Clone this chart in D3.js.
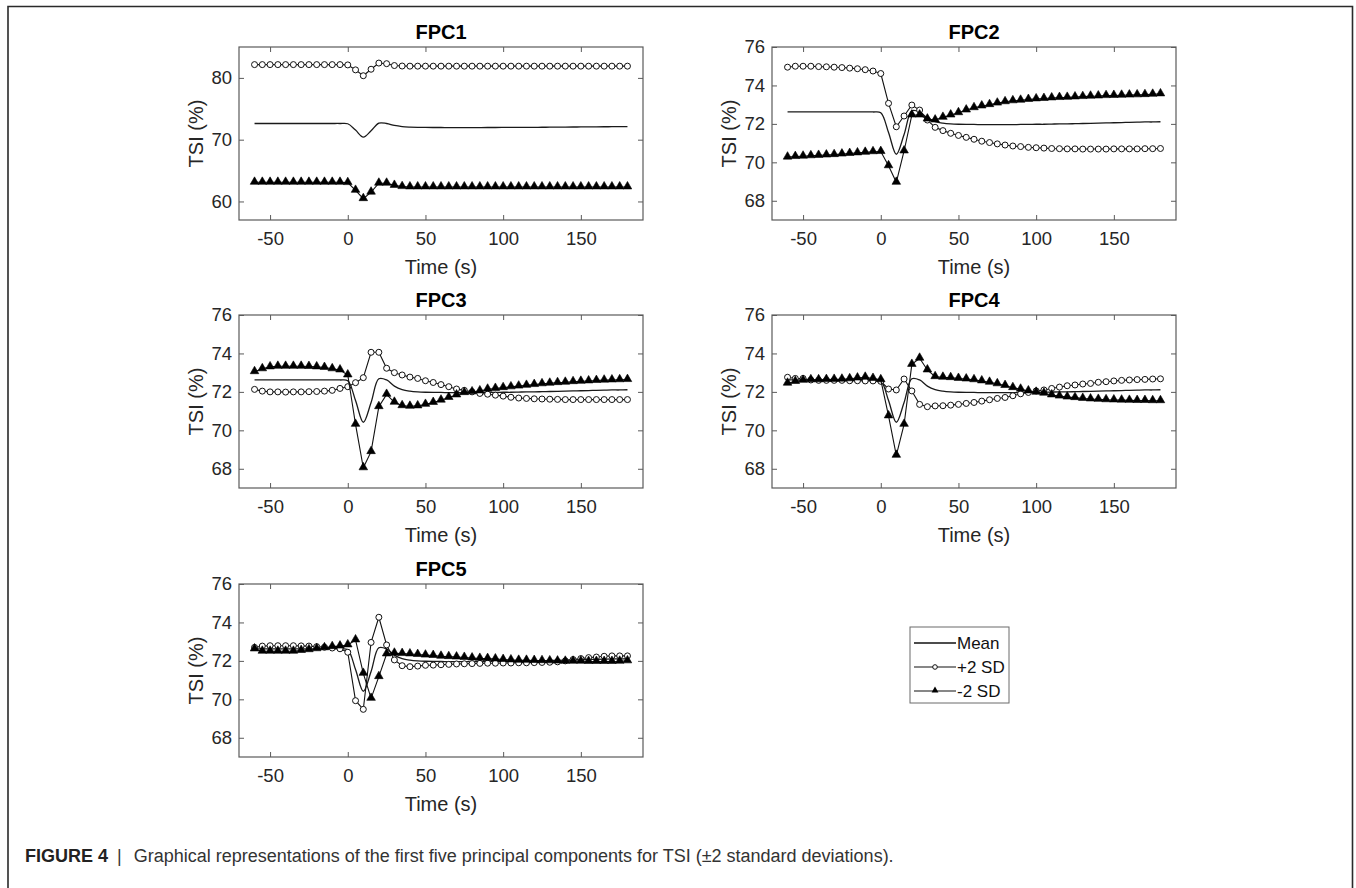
<!DOCTYPE html>
<html>
<head>
<meta charset="utf-8">
<script src="https://cdn.jsdelivr.net/npm/d3@7"></script>
<style>
  body { margin: 0; background: #fff; }
  svg { display: block; font-family: "Liberation Sans", Arial, sans-serif; }
</style>
</head>
<body>
<div id="hook-fpc"></div>
<script>
'use strict';

// time points (s), one marker every 5 s
var time = [-60, -55, -50, -45, -40, -35, -30, -25, -20, -15, -10, -5, 0, 5, 10, 15, 20, 25, 30, 35,
  40, 45, 50, 55, 60, 65, 70, 75, 80, 85, 90, 95, 100, 105, 110, 115, 120, 125, 130, 135,
  140, 145, 150, 155, 160, 165, 170, 175, 180];

var xTicks = [-50, 0, 50, 100, 150];
var yTicksWide = [60, 70, 80];
var yTicksNarrow = [68, 70, 72, 74, 76];

var meanTSI = [72.62, 72.62, 72.62, 72.62, 72.62, 72.62, 72.62, 72.62, 72.62, 72.62, 72.62, 72.62,
  72.58, 71.55, 70.42, 71.45, 72.68, 72.62, 72.3, 72.12, 72.04, 72.0,
  71.98, 71.97, 71.97, 71.96, 71.96, 71.96, 71.96, 71.96, 71.97, 71.97, 71.98, 71.98, 71.99, 72.0,
  72.0, 72.01, 72.02, 72.03, 72.04, 72.05, 72.06, 72.07, 72.08, 72.09, 72.1, 72.1, 72.11];

var fpc1Plus = [82.15, 82.15, 82.15, 82.15, 82.15, 82.15, 82.15, 82.15, 82.15, 82.15, 82.15, 82.15,
  82.1, 81.3, 80.35, 81.4, 82.4, 82.3, 82.0, 81.92, 81.9, 81.9, 81.9, 81.9, 81.9, 81.9, 81.9, 81.9,
  81.9, 81.9, 81.9, 81.9, 81.9, 81.9, 81.9, 81.9, 81.9, 81.9, 81.9, 81.9, 81.9, 81.9, 81.9, 81.9,
  81.9, 81.9, 81.9, 81.9, 81.9];
var fpc1Minus = [63.1, 63.1, 63.1, 63.1, 63.1, 63.1, 63.1, 63.1, 63.1, 63.1, 63.1, 63.1,
  63.05, 61.8, 60.45, 61.5, 62.95, 62.95, 62.6, 62.4, 62.35, 62.35, 62.35, 62.35, 62.35, 62.35, 62.35,
  62.35, 62.35, 62.35, 62.35, 62.35, 62.35, 62.35, 62.35, 62.35, 62.35, 62.35, 62.35, 62.35, 62.35,
  62.35, 62.35, 62.35, 62.35, 62.35, 62.35, 62.35, 62.35];

var fpc2Plus = [74.95, 75.0, 75.0, 75.0, 74.98, 74.97, 74.95, 74.93, 74.9, 74.87, 74.82, 74.75, 74.62,
  73.07, 71.85, 72.41, 72.98, 72.72, 72.2, 71.82, 71.65, 71.51, 71.4, 71.3, 71.2, 71.1, 71.03, 70.96,
  70.9, 70.85, 70.82, 70.78, 70.76, 70.74, 70.72, 70.71, 70.7, 70.7, 70.69, 70.69, 70.69, 70.69,
  70.7, 70.7, 70.7, 70.7, 70.71, 70.71, 70.72];
var fpc2Minus = [70.27, 70.3, 70.32, 70.34, 70.36, 70.38, 70.4, 70.43, 70.46, 70.49, 70.52, 70.55, 70.56,
  69.82, 68.96, 70.59, 72.46, 72.46, 72.25, 72.2, 72.34, 72.46, 72.58, 72.72, 72.84, 72.93, 73.0, 73.08,
  73.15, 73.2, 73.23, 73.27, 73.3, 73.32, 73.35, 73.37, 73.38, 73.4, 73.42, 73.44, 73.45, 73.47,
  73.48, 73.49, 73.5, 73.51, 73.52, 73.54, 73.56];

var fpc3Plus = [72.13, 72.04, 72.0, 72.0, 71.99, 72.0, 72.0, 72.01, 72.02, 72.04, 72.08, 72.18, 72.27,
  72.48, 72.74, 74.06, 74.06, 73.23, 73.0, 72.88, 72.77, 72.7, 72.58, 72.49, 72.38, 72.27, 72.15, 72.08,
  72.0, 71.92, 71.88, 71.83, 71.78, 71.72, 71.68, 71.66, 71.64, 71.63, 71.62, 71.61, 71.6, 71.6,
  71.6, 71.6, 71.6, 71.6, 71.6, 71.6, 71.6];
var fpc3Minus = [73.05, 73.2, 73.3, 73.33, 73.33, 73.33, 73.33, 73.32, 73.3, 73.27, 73.2, 73.14, 72.88,
  70.31, 68.05, 68.89, 71.23, 71.87, 71.46, 71.28, 71.25, 71.27, 71.35, 71.45, 71.57, 71.71, 71.84, 71.96,
  72.0, 72.05, 72.14, 72.18, 72.22, 72.26, 72.3, 72.34, 72.38, 72.42, 72.45, 72.48, 72.5, 72.53,
  72.55, 72.57, 72.59, 72.61, 72.62, 72.63, 72.64];

var fpc4Plus = [72.76, 72.7, 72.7, 72.62, 72.6, 72.6, 72.6, 72.6, 72.58, 72.58, 72.57, 72.57, 72.55,
  72.15, 72.1, 72.67, 72.05, 71.35, 71.23, 71.27, 71.28, 71.31, 71.35, 71.4, 71.45, 71.52, 71.59, 71.66,
  71.71, 71.8, 71.9, 71.97, 72.05, 72.1, 72.18, 72.25, 72.32, 72.36, 72.41, 72.44, 72.5, 72.53,
  72.57, 72.6, 72.62, 72.64, 72.65, 72.67, 72.68];
var fpc4Minus = [72.45, 72.54, 72.6, 72.63, 72.63, 72.64, 72.65, 72.66, 72.68, 72.72, 72.76, 72.7, 72.63,
  70.75, 68.7, 70.31, 73.43, 73.75, 73.14, 72.79, 72.76, 72.74, 72.7, 72.67, 72.63, 72.57, 72.5, 72.42,
  72.33, 72.22, 72.14, 72.05, 71.98, 71.93, 71.84, 71.78, 71.73, 71.7, 71.66, 71.63, 71.61, 71.59,
  71.58, 71.57, 71.56, 71.55, 71.55, 71.54, 71.54];

var fpc5Plus = [72.7, 72.77, 72.79, 72.79, 72.79, 72.79, 72.78, 72.77, 72.74, 72.71, 72.67, 72.63, 72.45,
  69.93, 69.48, 72.96, 74.27, 72.83, 72.05, 71.75, 71.7, 71.73, 71.77, 71.78, 71.8, 71.82, 71.84, 71.85,
  71.86, 71.87, 71.88, 71.88, 71.89, 71.89, 71.9, 71.9, 71.91, 71.92, 71.93, 71.95, 72.0, 72.07,
  72.12, 72.17, 72.2, 72.24, 72.26, 72.26, 72.26];
var fpc5Minus = [72.62, 72.5, 72.5, 72.5, 72.5, 72.5, 72.54, 72.58, 72.63, 72.68, 72.74, 72.77, 72.83,
  73.09, 71.35, 70.05, 71.18, 72.36, 72.4, 72.38, 72.36, 72.33, 72.3, 72.28, 72.24, 72.22, 72.2, 72.18,
  72.15, 72.13, 72.12, 72.1, 72.07, 72.05, 72.03, 72.03, 72.02, 72.01, 72.0, 71.99, 71.98, 71.98,
  71.98, 71.97, 71.97, 71.97, 71.97, 71.98, 72.0];

var titles = ['FPC1', 'FPC2', 'FPC3', 'FPC4', 'FPC5'];
var legendLabels = ['Mean', '+2 SD', '-2 SD'];
var captionHead = 'FIGURE 4';
var captionText = 'Graphical representations of the first five principal components for TSI (\u00b12 standard deviations).';

(function() {

var options = {
  width: 1356,
  height: 888,
  colX: [239, 772],
  rowY: [47, 315, 584],
  plotW: 404,
  plotH: 173,
  tickLen: 5,
  axisColor: '#262626',
  boxColor: '#5a5a5a'
};

var panels = [
  { title: titles[0], plus: fpc1Plus, minus: fpc1Minus, yDomain: [57, 85], yTicks: yTicksWide, col: 0, row: 0 },
  { title: titles[1], plus: fpc2Plus, minus: fpc2Minus, yDomain: [67, 76], yTicks: yTicksNarrow, col: 1, row: 0 },
  { title: titles[2], plus: fpc3Plus, minus: fpc3Minus, yDomain: [67, 76], yTicks: yTicksNarrow, col: 0, row: 1 },
  { title: titles[3], plus: fpc4Plus, minus: fpc4Minus, yDomain: [67, 76], yTicks: yTicksNarrow, col: 1, row: 1 },
  { title: titles[4], plus: fpc5Plus, minus: fpc5Minus, yDomain: [67, 76], yTicks: yTicksNarrow, col: 0, row: 2 }
];

// plain hyphen for negatives, like the original figure
var plainNum = function(d) { return String(d); };

var svg = d3.select('#hook-fpc')
  .append('svg')
  .attr('width', options.width)
  .attr('height', options.height);

// outer frame (open at the bottom)
svg.append('path')
  .attr('d', 'M8,888 L8,6.5 L1352.5,6.5 L1352.5,888')
  .style('fill', 'none')
  .style('stroke', '#2a2a2a')
  .style('stroke-width', 1.6);

var triangle = d3.symbol().type(d3.symbolTriangle).size(32);

function drawPanel(p) {
  var x0 = options.colX[p.col],
    y0 = options.rowY[p.row],
    w = options.plotW,
    h = options.plotH;

  var x = d3.scaleLinear().domain([-70, 190]).range([0, w]);
  var y = d3.scaleLinear().domain(p.yDomain).range([h, 0]);

  var g = svg.append('g')
    .attr('transform', 'translate(' + x0 + ',' + y0 + ')');

  // axes, ticks pointing inwards on all four sides
  g.append('g')
    .attr('transform', 'translate(0,' + h + ')')
    .call(d3.axisBottom(x).tickValues(xTicks).tickFormat(plainNum).tickSize(-options.tickLen).tickPadding(12));
  g.append('g')
    .call(d3.axisTop(x).tickValues(xTicks).tickSize(-options.tickLen).tickFormat(''));
  g.append('g')
    .call(d3.axisLeft(y).tickValues(p.yTicks).tickFormat(plainNum).tickSize(-options.tickLen).tickPadding(7));
  g.append('g')
    .attr('transform', 'translate(' + w + ',0)')
    .call(d3.axisRight(y).tickValues(p.yTicks).tickSize(-options.tickLen).tickFormat(''));

  g.selectAll('.domain').remove();
  g.selectAll('.tick line').style('stroke', options.boxColor);
  g.selectAll('.tick text')
    .style('font-size', '18.5px')
    .style('fill', options.axisColor)
    .style('font-family', '"Liberation Sans", Arial, sans-serif');

  g.append('rect')
    .attr('x', 0).attr('y', 0)
    .attr('width', w).attr('height', h)
    .style('fill', 'none')
    .style('stroke', options.boxColor)
    .style('stroke-width', 1.2);

  // title and axis labels
  g.append('text')
    .attr('x', w / 2).attr('y', -8.5)
    .attr('text-anchor', 'middle')
    .style('font-size', '20px')
    .style('font-weight', 'bold')
    .style('fill', '#000')
    .text(p.title);

  g.append('text')
    .attr('x', w / 2).attr('y', h + 54)
    .attr('text-anchor', 'middle')
    .style('font-size', '20px')
    .style('fill', options.axisColor)
    .text('Time (s)');

  g.append('text')
    .attr('transform', 'translate(-36,' + (h / 2) + ') rotate(-90)')
    .attr('text-anchor', 'middle')
    .style('font-size', '20px')
    .style('fill', options.axisColor)
    .text('TSI (%)');

  var lineStraight = d3.line()
    .x(function(d, i) { return x(time[i]); })
    .y(function(d) { return y(d); });
  var lineSmooth = d3.line()
    .x(function(d, i) { return x(time[i]); })
    .y(function(d) { return y(d); })
    .curve(d3.curveCatmullRom.alpha(0.5));

  g.append('path')
    .datum(meanTSI)
    .attr('d', lineSmooth)
    .style('fill', 'none')
    .style('stroke', '#1a1a1a')
    .style('stroke-width', 1.3);

  g.append('path')
    .datum(p.plus)
    .attr('d', lineStraight)
    .style('fill', 'none')
    .style('stroke', '#111')
    .style('stroke-width', 1.1);

  g.selectAll('circle.plus')
    .data(p.plus)
    .enter()
    .append('circle')
    .attr('class', 'plus')
    .attr('cx', function(d, i) { return x(time[i]); })
    .attr('cy', function(d) { return y(d); })
    .attr('r', 3)
    .style('fill', '#fff')
    .style('stroke', '#111')
    .style('stroke-width', 1);

  g.append('path')
    .datum(p.minus)
    .attr('d', lineStraight)
    .style('fill', 'none')
    .style('stroke', '#111')
    .style('stroke-width', 1.1);

  g.selectAll('path.minus')
    .data(p.minus)
    .enter()
    .append('path')
    .attr('class', 'minus')
    .attr('d', triangle)
    .attr('transform', function(d, i) {
      return 'translate(' + x(time[i]) + ',' + (y(d) - 0.5) + ')';
    })
    .style('fill', '#000')
    .style('stroke', '#000')
    .style('stroke-width', 0.6);
}

panels.forEach(drawPanel);

// legend
var lg = svg.append('g').attr('transform', 'translate(910,627)');
lg.append('rect')
  .attr('x', 0).attr('y', 0)
  .attr('width', 99).attr('height', 76)
  .style('fill', '#fff')
  .style('stroke', '#6a6a6a')
  .style('stroke-width', 1);

legendLabels.forEach(function(label, i) {
  var ly = 16 + i * 24;
  lg.append('line')
    .attr('x1', 4).attr('x2', 46)
    .attr('y1', ly).attr('y2', ly)
    .style('stroke', '#111')
    .style('stroke-width', i === 0 ? 1.3 : 1.1);
  if (i === 1) {
    lg.append('circle')
      .attr('cx', 25).attr('cy', ly).attr('r', 2.3)
      .style('fill', '#fff').style('stroke', '#111').style('stroke-width', 1);
  }
  if (i === 2) {
    lg.append('path')
      .attr('d', d3.symbol().type(d3.symbolTriangle).size(20))
      .attr('transform', 'translate(25,' + (ly - 0.5) + ')')
      .style('fill', '#000');
  }
  lg.append('text')
    .attr('x', 47).attr('y', ly)
    .attr('dy', '0.35em')
    .style('font-size', '17px')
    .style('fill', '#111')
    .text(label);
});

// caption
var cap = svg.append('text')
  .attr('x', 25).attr('y', 862)
  .style('font-size', '18px')
  .style('font-family', '"Liberation Sans", Arial, sans-serif');
cap.append('tspan')
  .style('font-weight', 'bold')
  .style('fill', '#222')
  .text(captionHead);
cap.append('tspan')
  .attr('dx', 9)
  .style('fill', '#333')
  .text('|');
cap.append('tspan')
  .attr('dx', 12)
  .style('fill', '#333')
  .text(captionText);

}());
</script>
</body>
</html>
